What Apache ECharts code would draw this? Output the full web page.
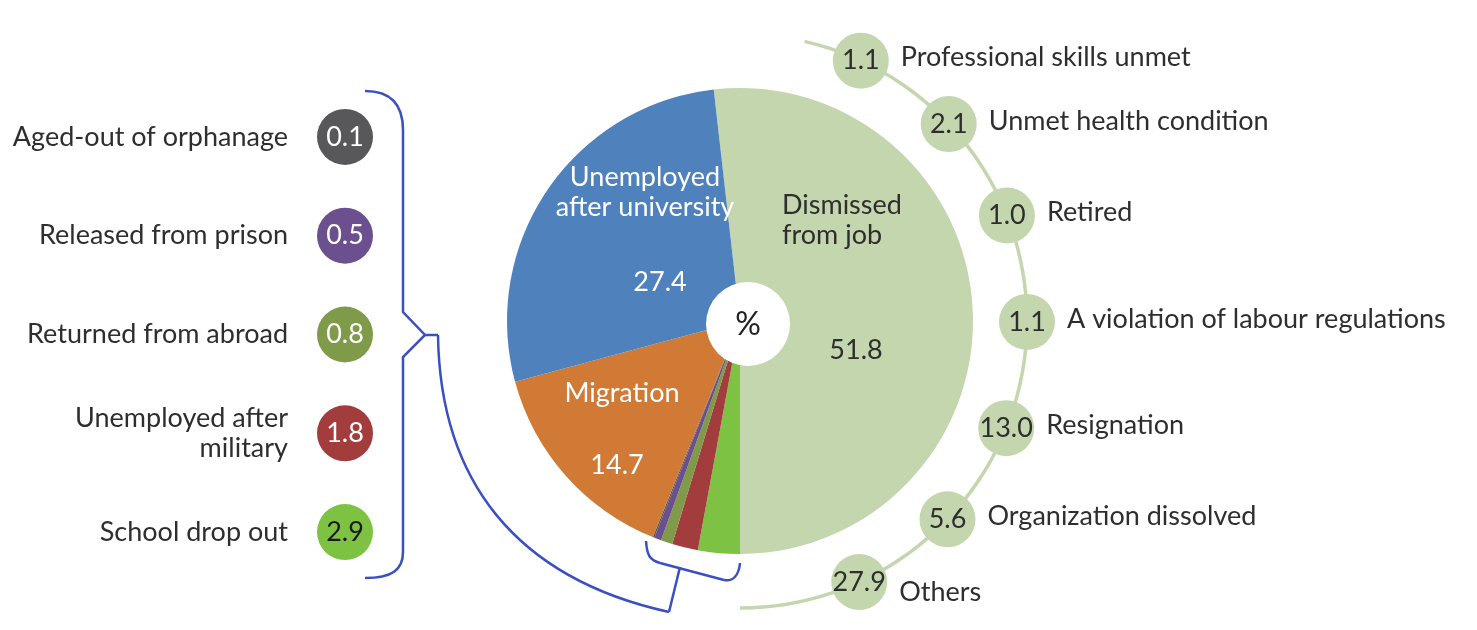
<!DOCTYPE html>
<html>
<head>
<meta charset="utf-8">
<script src="https://cdn.jsdelivr.net/npm/echarts@6/dist/echarts.min.js"></script>
<style>
html, body { margin: 0; padding: 0; background: #fff; }
#chart1 { width: 1477px; height: 630px; }
</style>
</head>
<body>
<div id="chart1"></div>
<script>
// pie slices, clockwise from the top
var pieNames = ['Dismissed from job', 'School drop out', 'Unemployed after military', 'Returned from abroad',
    'Released from prison', 'Aged-out of orphanage', 'Migration', 'Unemployed after university'];
var pieValues = [51.8, 2.9, 1.8, 0.8, 0.5, 0.1, 14.7, 27.4];
var pieColors = ['#c4d6ae', '#7dc242', '#a33c3c', '#7f9a48', '#6b4f8e', '#58585b', '#d07a36', '#4f81bd'];

// small reasons, listed on the left (top to bottom)
var smallNames = ['Aged-out of orphanage', 'Released from prison', 'Returned from abroad', 'Unemployed after\nmilitary', 'School drop out'];
var smallValues = [0.1, 0.5, 0.8, 1.8, 2.9];
var smallColors = ['#58585b', '#6b4f8e', '#7f9a48', '#a33c3c', '#7dc242'];

// breakdown of "Dismissed from job" along the arc (top to bottom)
var dismissNames = ['Professional skills unmet', 'Unmet health condition', 'Retired', 'A violation of labour regulations',
    'Resignation', 'Organization dissolved', 'Others'];
var dismissValues = [1.1, 2.1, 1.0, 1.1, 13.0, 5.6, 27.9];

var FONT = 'Lato';
var FS = 27;
var TXT = '#2e2e2e';
var BRACE = '#3a4fc4';
var CX = 740, CY = 321;
var STEP = 21.76;   // degrees between two circles on the arc

var _chart1 = null;
function initChart1() {
    _chart1 = echarts.init(document.getElementById('chart1'));

    var total = 0;
    for (var i = 0; i < pieValues.length; i++) total += pieValues[i];
    // first slice ends exactly at the bottom
    var start = -90 + 360 * pieValues[0] / total;

    var pieData = [];
    for (var i = 0; i < pieValues.length; i++) {
        pieData.push({
            name: pieNames[i],
            value: pieValues[i],
            itemStyle: { color: pieColors[i] },
            label: { color: i === 0 ? TXT : '#fff' }
        });
    }
    // where the big slice values sit
    var valuePos = { 0: [856, 350], 6: [617, 465], 7: [660, 282] };

    var smallData = [];
    for (var i = 0; i < smallValues.length; i++) {
        smallData.push({
            value: [0.5, i],
            itemStyle: { color: smallColors[i] },
            label: { color: i === 4 ? '#1a1a1a' : '#fff' }
        });
    }

    var arcData = [];
    var nameData = [];
    for (var i = 0; i < dismissValues.length; i++) {
        arcData.push({ name: dismissNames[i], value: [1, i, dismissValues[i]] });
        var item = { name: dismissNames[i], value: [1, i, dismissValues[i]] };
        if (i === dismissValues.length - 1) item.label = { offset: [0, 10] };
        nameData.push(item);
    }

    var option = {
        animation: false,
        textStyle: { fontFamily: FONT },
        grid: { left: 317, top: 87.5, width: 56, height: 494 },
        xAxis: { type: 'value', min: 0, max: 1, show: false },
        yAxis: {
            type: 'category',
            inverse: true,
            data: smallNames,
            axisLine: { show: false },
            axisTick: { show: false },
            splitLine: { show: false },
            axisLabel: { margin: 29, fontSize: FS, lineHeight: 30, color: TXT, fontFamily: FONT }
        },
        polar: { center: [CX, CY], radius: 287 },
        angleAxis: {
            type: 'value', min: 0, max: 360 / STEP, startAngle: 65.1, clockwise: true,
            show: false, axisLine: { show: false }, splitLine: { show: false }, axisLabel: { show: false }, axisTick: { show: false }
        },
        radiusAxis: { type: 'value', min: 0, max: 1, show: false, splitLine: { show: false } },
        series: [
            {
                type: 'pie',
                center: [CX, CY],
                radius: [0, 233],
                startAngle: start,
                clockwise: true,
                emphasis: { disabled: true },
                itemStyle: { borderWidth: 0 },
                labelLine: { show: false },
                label: {
                    show: true,
                    position: 'inside',
                    fontSize: FS,
                    fontFamily: FONT,
                    formatter: function (p) { return p.value >= 10 ? p.value.toFixed(1) : ''; }
                },
                labelLayout: function (p) {
                    var pos = valuePos[p.dataIndex];
                    if (!pos) return {};
                    return { x: pos[0], y: pos[1], align: 'center', verticalAlign: 'middle' };
                },
                data: pieData
            },
            {
                type: 'scatter',
                symbolSize: 56,
                emphasis: { disabled: true },
                itemStyle: { opacity: 1 },
                label: {
                    show: true, position: 'inside', fontSize: FS, fontFamily: FONT,
                    formatter: function (p) { return smallValues[p.dataIndex].toFixed(1); }
                },
                data: smallData
            },
            {
                type: 'scatter',
                coordinateSystem: 'polar',
                symbolSize: 56,
                z: 3,
                emphasis: { disabled: true },
                itemStyle: { color: '#c4d6ae', opacity: 1 },
                label: {
                    show: true, position: 'inside', fontSize: FS, fontFamily: FONT, color: TXT,
                    formatter: function (p) { return p.value[2].toFixed(1); }
                },
                data: arcData
            },
            {
                type: 'scatter',
                coordinateSystem: 'polar',
                symbolSize: 56,
                silent: true,
                itemStyle: { color: 'rgba(0,0,0,0)', opacity: 1 },
                label: {
                    show: true, position: 'right', distance: 12, fontSize: FS, fontFamily: FONT, color: TXT,
                    offset: [0, -3],
                    formatter: function (p) { return p.name; }
                },
                data: nameData
            }
        ],
        graphic: [
            // arc carrying the breakdown of the dismissed slice
            {
                type: 'arc', z: 1,
                shape: { cx: CX, cy: CY, r: 287, startAngle: -77 * Math.PI / 180, endAngle: Math.PI / 2, clockwise: true },
                style: { stroke: '#c4d6ae', lineWidth: 3.5, fill: null }
            },
            // hole with the unit
            { type: 'circle', z: 100, shape: { cx: 748, cy: 324, r: 42 }, style: { fill: '#fff' } },
            { type: 'text', z: 101, x: 748, y: 325, style: { text: '%', fontSize: 32, fontFamily: FONT, fill: '#222', align: 'center', verticalAlign: 'middle' } },
            // slice names
            { type: 'text', z: 101, x: 645, y: 192, style: { text: 'Unemployed\nafter university', fontSize: FS, lineHeight: 30, fontFamily: FONT, fill: '#fff', align: 'center', verticalAlign: 'middle' } },
            { type: 'text', z: 101, x: 782, y: 220, style: { text: 'Dismissed\nfrom job', fontSize: FS, lineHeight: 30, fontFamily: FONT, fill: TXT, align: 'left', verticalAlign: 'middle' } },
            { type: 'text', z: 101, x: 622, y: 393, style: { text: 'Migration', fontSize: FS, fontFamily: FONT, fill: '#fff', align: 'center', verticalAlign: 'middle' } },
            // left brace
            { type: 'bezierCurve', z: 1, shape: { x1: 365, y1: 91, cpx1: 392, cpy1: 91, cpx2: 403, cpy2: 106, x2: 403, y2: 130 }, style: { stroke: BRACE, lineWidth: 2.5, fill: null } },
            { type: 'polyline', z: 1, shape: { points: [[403, 130], [403, 312], [425, 335], [403, 357], [403, 552]] }, style: { stroke: BRACE, lineWidth: 2.5, fill: null } },
            { type: 'bezierCurve', z: 1, shape: { x1: 403, y1: 552, cpx1: 403, cpy1: 570, cpx2: 392, cpy2: 578, x2: 365, y2: 578 }, style: { stroke: BRACE, lineWidth: 2.5, fill: null } },
            { type: 'line', z: 1, shape: { x1: 425, y1: 335, x2: 438, y2: 335 }, style: { stroke: BRACE, lineWidth: 2.5 } },
            // connector to the small slices
            { type: 'bezierCurve', z: 1, shape: { x1: 438, y1: 335, cpx1: 440, cpy1: 480, cpx2: 515, cpy2: 578, x2: 669, y2: 612 }, style: { stroke: BRACE, lineWidth: 2.5, fill: null } },
            { type: 'line', z: 1, shape: { x1: 669, y1: 612, x2: 680, y2: 567 }, style: { stroke: BRACE, lineWidth: 2.5 } },
            // small bracket under the small slices
            { type: 'bezierCurve', z: 1, shape: { x1: 646, y1: 541, cpx1: 647, cpy1: 556, cpx2: 650, cpy2: 560, x2: 660, y2: 563 }, style: { stroke: BRACE, lineWidth: 2.5, fill: null } },
            { type: 'line', z: 1, shape: { x1: 660, y1: 563, x2: 724, y2: 580 }, style: { stroke: BRACE, lineWidth: 2.5 } },
            { type: 'bezierCurve', z: 1, shape: { x1: 724, y1: 580, cpx1: 733, cpy1: 582, cpx2: 739, cpy2: 575, x2: 740, y2: 563 }, style: { stroke: BRACE, lineWidth: 2.5, fill: null } }
        ]
    };

    _chart1.setOption(option);
}
initChart1();
</script>
</body>
</html>
